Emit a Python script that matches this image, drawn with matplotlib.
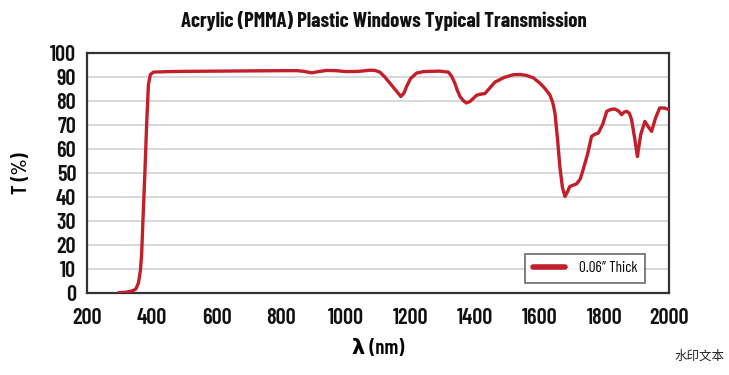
import matplotlib
matplotlib.use("Agg")
import matplotlib.pyplot as plt

# Data
wavelength = [296, 320, 340, 350, 358, 364, 368, 372, 378, 384, 389, 395, 405, 450, 500, 600, 700,
              800, 850, 870, 894, 915, 940, 970, 1000, 1040, 1074, 1090, 1105, 1120, 1136, 1155,
              1170, 1180, 1188, 1200, 1219, 1240, 1260, 1290, 1317, 1327, 1337, 1345, 1353, 1363,
              1373, 1385, 1404, 1418, 1430, 1445, 1461, 1490, 1518, 1540, 1559, 1580, 1600, 1615,
              1631, 1640, 1647, 1655, 1662, 1670, 1678, 1685, 1693, 1714, 1725, 1734, 1748, 1760,
              1770, 1781, 1795, 1807, 1820, 1832, 1845, 1853, 1861, 1869, 1877, 1884, 1893, 1902,
              1912, 1925, 1935, 1946, 1958, 1971, 1985, 2000]
transmission = [0.0, 0.2, 0.8, 1.5, 4, 9, 16, 30, 50, 72, 87, 91.2, 92.2, 92.4, 92.5, 92.6, 92.7,
                92.8, 92.8, 92.5, 91.9, 92.4, 92.9, 92.8, 92.4, 92.5, 93.0, 92.9, 92.2, 90.2, 87.6,
                84.5, 82.0, 83.5, 86.2, 89.5, 91.8, 92.4, 92.5, 92.6, 92.2, 90.5, 87.6, 84.5, 82.0,
                80.3, 79.3, 80.0, 82.5, 83.0, 83.2, 85.5, 88.0, 90.0, 91.1, 91.2, 90.8, 89.8, 87.6,
                85.5, 82.7, 79.5, 75.0, 64, 52.7, 44, 40.2, 42.0, 44.4, 45.5, 47.5, 51.4, 58, 65.3,
                66.2, 66.7, 70.5, 75.8, 76.6, 76.8, 75.8, 74.4, 75.5, 75.8, 75.0, 72.3, 65, 56.9,
                66, 71.6, 69.5, 67.4, 73, 77.2, 77.2, 76.5]
series_label = "0.06\u2033 Thick"
x_ticks = [200, 400, 600, 800, 1000, 1200, 1400, 1600, 1800, 2000]
y_ticks = list(range(0, 101, 10))

FONT = ['Barlow Condensed', 'DejaVu Sans']
plt.rcParams['font.family'] = FONT

fig = plt.figure(figsize=(7.29, 3.75), dpi=100)
ax = fig.add_axes([0.1198, 0.2195, 0.798, 0.638])

line_color = "#c21f2b"
ax.plot(wavelength, transmission, color=line_color, lw=2.4, label=series_label,
        solid_capstyle='round', solid_joinstyle='round', zorder=3)

ax.set_xlim(200, 2000)
ax.set_ylim(0, 100)
ax.set_xticks(x_ticks)
ax.set_yticks(y_ticks)
ax.tick_params(axis='both', length=0, labelsize=16, colors='#111111')
ax.tick_params(axis='y', pad=8)
ax.tick_params(axis='x', pad=11)
for lbl in ax.get_xticklabels() + ax.get_yticklabels():
    lbl.set_fontweight(600)
ax.grid(axis='y', color='#d6d6d6', lw=1.3, zorder=0)
ax.grid(axis='x', visible=False)
for s in ax.spines.values():
    s.set_color('#333333')
    s.set_linewidth(1.6)

ax.set_xlabel("\u03bb (nm)", fontsize=15, fontweight=600, labelpad=8)
ax.set_ylabel("T (%)", fontsize=15, fontweight=600, labelpad=14)
fig.text(0.527, 0.945, "Acrylic (PMMA) Plastic Windows Typical Transmission", ha='center',
         va='center', fontsize=15, fontweight='bold', color='#111111')

leg = ax.legend(loc='lower right', bbox_to_anchor=(0.958, 0.04), fontsize=11, frameon=True,
                fancybox=False, handlelength=2.1, borderpad=0.5, handletextpad=0.9,
                borderaxespad=0.0)
leg.get_frame().set_edgecolor('#444444')
leg.get_frame().set_linewidth(1.2)
for l in leg.get_lines():
    l.set_linewidth(4)

fig.text(0.96, 0.05, "\u6c34\u5370\u6587\u672c", ha='center', va='center', fontsize=9,
         family=['Noto Sans CJK SC', 'DejaVu Sans'], color='#222222')

fig.savefig("out.png", dpi=100)
